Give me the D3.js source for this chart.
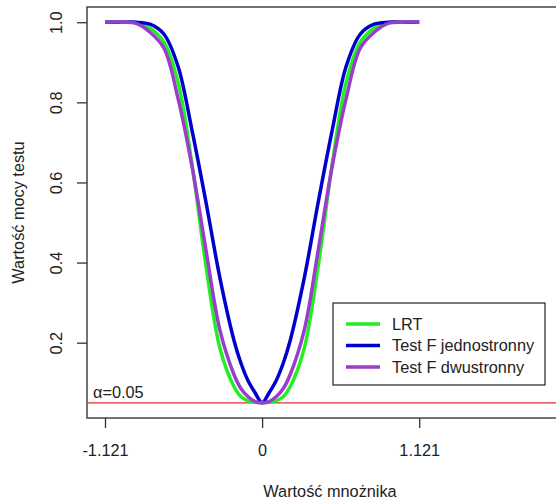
<!DOCTYPE html>
<html>
<head>
<meta charset="utf-8">
<script src="https://cdn.jsdelivr.net/npm/d3@7"></script>
<style>
  body { margin: 0; background: #fff; }
  svg { display: block; font-family: "Liberation Sans", Arial, sans-serif; }
</style>
</head>
<body>
<script>
// multiplier values where power was evaluated
var multipliers = [-1.121, -1.0, -0.9, -0.8, -0.7, -0.6, -0.5, -0.4, -0.3, -0.2, -0.15, -0.1, -0.05, 0,
                   0.05, 0.1, 0.15, 0.2, 0.3, 0.4, 0.5, 0.6, 0.7, 0.8, 0.9, 1.0, 1.121];

// power of each test
var lrt  = [1, 1, 0.999, 0.985, 0.95, 0.85, 0.645, 0.39, 0.185, 0.09, 0.065, 0.055, 0.051, 0.05,
            0.051, 0.055, 0.065, 0.09, 0.185, 0.39, 0.645, 0.85, 0.95, 0.985, 0.999, 1, 1];
var fOne = [1, 1, 1, 0.995, 0.97, 0.89, 0.73, 0.55, 0.36, 0.205, 0.148, 0.105, 0.075, 0.05,
            0.075, 0.105, 0.148, 0.205, 0.36, 0.55, 0.73, 0.89, 0.97, 0.995, 1, 1, 1];
var fTwo = [1, 1, 0.997, 0.975, 0.935, 0.81, 0.64, 0.43, 0.23, 0.12, 0.085, 0.065, 0.053, 0.05,
            0.053, 0.065, 0.085, 0.12, 0.23, 0.43, 0.64, 0.81, 0.935, 0.975, 0.997, 1, 1];

var seriesNames = ["LRT", "Test F jednostronny", "Test F dwustronny"];
var seriesColors = ["#22ee22", "#0000cd", "#9a3dcc"];

var xTicks = [-1.121, 0, 1.121];
var xTickLabels = ["-1.121", "0", "1.121"];
var yTicks = [0.2, 0.4, 0.6, 0.8, 1.0];
var alpha = 0.05;

var width = 556, height = 500;
var fontSize = 16.3;

// R-style 4% padding around the limits
var xlim = [-1.121, 2.09], ylim = [alpha, 1];
function pad(l) { var d = (l[1] - l[0]) * 0.04; return [l[0] - d, l[1] + d]; }

var x = d3.scaleLinear().domain(pad(xlim)).range([87, 573]);
var y = d3.scaleLinear().domain(pad(ylim)).range([418, 7]);

var svg = d3.select("body").append("svg")
    .attr("width", width)
    .attr("height", height);

// plot box (right side runs off the page)
svg.append("rect")
    .attr("x", x.range()[0])
    .attr("y", y.range()[1])
    .attr("width", x.range()[1] - x.range()[0])
    .attr("height", y.range()[0] - y.range()[1])
    .attr("fill", "none")
    .attr("stroke", "#444")
    .attr("stroke-width", 1.5);

// x axis
var xAxis = svg.append("g")
    .attr("transform", "translate(0," + y.range()[0] + ")")
    .call(d3.axisBottom(x).tickValues(xTicks).tickSize(10).tickPadding(16)
        .tickFormat(function (d, i) { return xTickLabels[i]; }));
xAxis.select(".domain").remove();
xAxis.selectAll("line").attr("stroke", "#333").attr("stroke-width", 1.3);
xAxis.selectAll("text").attr("font-size", fontSize).attr("fill", "#222")
    .attr("font-family", "Liberation Sans, Arial, sans-serif");

// y axis, labels rotated like R
var yAxis = svg.append("g")
    .attr("transform", "translate(" + x.range()[0] + ",0)")
    .call(d3.axisLeft(y).tickValues(yTicks).tickSize(10).tickFormat(d3.format(".1f")));
yAxis.select(".domain").remove();
yAxis.selectAll("line").attr("stroke", "#333").attr("stroke-width", 1.3);
yAxis.selectAll("text")
    .attr("font-size", fontSize).attr("fill", "#222")
    .attr("font-family", "Liberation Sans, Arial, sans-serif")
    .attr("x", null).attr("dy", null)
    .attr("text-anchor", "middle")
    .attr("transform", "translate(-31,0) rotate(-90)")
    .attr("dominant-baseline", "central");

// axis titles
svg.append("text")
    .attr("x", (x.range()[0] + x.range()[1]) / 2)
    .attr("y", 497)
    .attr("text-anchor", "middle")
    .attr("font-size", fontSize)
    .attr("fill", "#222")
    .text("Wartość mnożnika");

svg.append("text")
    .attr("transform", "translate(24," + (y.range()[0] + y.range()[1]) / 2 + ") rotate(-90)")
    .attr("text-anchor", "middle")
    .attr("font-size", fontSize)
    .attr("fill", "#222")
    .text("Wartość mocy testu");

// alpha reference line
svg.append("line")
    .attr("x1", x.range()[0]).attr("x2", width)
    .attr("y1", y(alpha)).attr("y2", y(alpha))
    .attr("stroke", "#d83030")
    .attr("stroke-width", 1.2);

svg.append("text")
    .attr("x", 93)
    .attr("y", y(alpha) - 5)
    .attr("font-size", fontSize)
    .attr("fill", "#222")
    .text("α=0.05");

// power curves
var series = [lrt, fOne, fTwo];
var line = d3.line()
    .x(function (d, i) { return x(multipliers[i]); })
    .y(function (d) { return y(d); })
    .curve(d3.curveCatmullRom.alpha(0.5));

svg.selectAll(".curve")
    .data(series)
    .enter().append("path")
    .attr("class", "curve")
    .attr("d", line)
    .attr("fill", "none")
    .attr("stroke", function (d, i) { return seriesColors[i]; })
    .attr("stroke-width", 3.5)
    .attr("stroke-linejoin", "round");

// legend
var legend = svg.append("g").attr("transform", "translate(333,303)");
legend.append("rect")
    .attr("width", 212).attr("height", 82)
    .attr("fill", "#fff")
    .attr("stroke", "#222")
    .attr("stroke-width", 1.2);

var rows = legend.selectAll(".row")
    .data(seriesNames)
    .enter().append("g")
    .attr("transform", function (d, i) { return "translate(0," + (21 + i * 21.5) + ")"; });
rows.append("line")
    .attr("x1", 13).attr("x2", 47)
    .attr("stroke", function (d, i) { return seriesColors[i]; })
    .attr("stroke-width", 3.5);
rows.append("text")
    .attr("x", 59)
    .attr("dy", "0.35em")
    .attr("font-size", fontSize)
    .attr("fill", "#222")
    .text(function (d) { return d; });
</script>
</body>
</html>
